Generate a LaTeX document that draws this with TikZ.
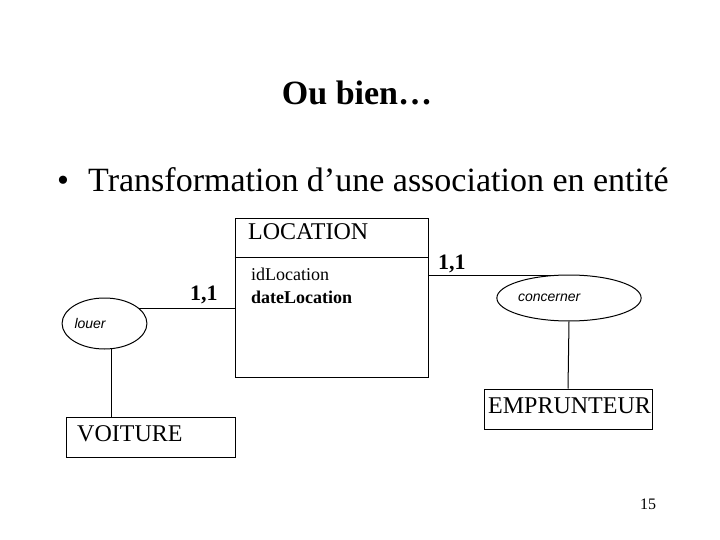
\documentclass[tikz,border=0pt]{standalone}
\usepackage{fontspec}
\setmainfont{Liberation Serif}
\newfontfamily\assocfont{Liberation Sans}
\usepackage{tikz}
\usetikzlibrary{calc,shapes.geometric,positioning}

\begin{document}
\begin{tikzpicture}[x=1pt, y=-1pt,
        txt/.style={inner sep=0pt, anchor=base west},
        entity/.style={draw, rectangle, line width=1pt, inner sep=0pt},
        assoc/.style={draw, ellipse, line width=1pt, inner sep=0pt, align=left, font=\assocfont\itshape\fontsize{14}{16}\selectfont},
        card/.style={txt, font=\bfseries\fontsize{22}{26}\selectfont},
        link/.style={line width=1pt}
    ]
        \useasboundingbox (0,0) rectangle (720,540);
        % Titles
        \node[inner sep=0pt, anchor=base, font=\bfseries\fontsize{34}{40}\selectfont] (title) at (357,105) {Ou bien…};
        \node[txt, font=\fontsize{34}{40}\selectfont] (bulletdot) at (57,192) {•};
        \node[txt, font=\fontsize{34}{40}\selectfont] (bullet) at (88,192) {Transformation d’une association en entité};

        % Entities
        \node[entity, minimum width=193, minimum height=158] (location) at (331.5,298) {};
        \node[txt, font=\fontsize{24}{27}\selectfont] (locname) at (248,240) {LOCATION};
        \node[txt, font=\fontsize{18}{20}\selectfont] (idloc) at (251,280) {idLocation};
        \node[txt, font=\bfseries\fontsize{18}{20}\selectfont] (dateloc) at (251,303) {dateLocation};
        \draw[link] ($(location.north west)+(0,39)$) coordinate (sepw) -- (sepw -| location.east);

        \node[entity, minimum width=169, minimum height=40] (voiture) at (150.5,437) {};
        \node[txt, font=\fontsize{24}{27}\selectfont] (voitname) at (77,441) {VOITURE};

        \node[entity, minimum width=168, minimum height=40] (emprunteur) at (568,409) {};
        \node[txt, font=\fontsize{24}{27}\selectfont] (empname) at (488,413) {EMPRUNTEUR};

        % Associations
        \node[assoc, minimum width=79, minimum height=51, text width=60] (louer) at (104.5,323.5) {louer};
        \node[assoc, minimum width=126, minimum height=46, text width=102] (concerner) at (569,298) {concerner};

        % Links
        \draw[link] (louer.24) -- (louer.24 -| location.west);
        \draw[link] (louer.-75) -- (louer.-75 |- voiture.north);
        \draw[link] (concerner.126) -- (concerner.126 -| location.east);
        \draw[link] (concerner.south) -- (emprunteur.north);

        % Cardinalities
        \node[card] (cardleft) at (190,300) {1,1};
        \node[card] (cardright) at (438,269) {1,1};

        % Page number
        \node[txt, font=\fontsize{16}{18}\selectfont] (pagenum) at (640,509) {15};
\end{tikzpicture}
\end{document}
